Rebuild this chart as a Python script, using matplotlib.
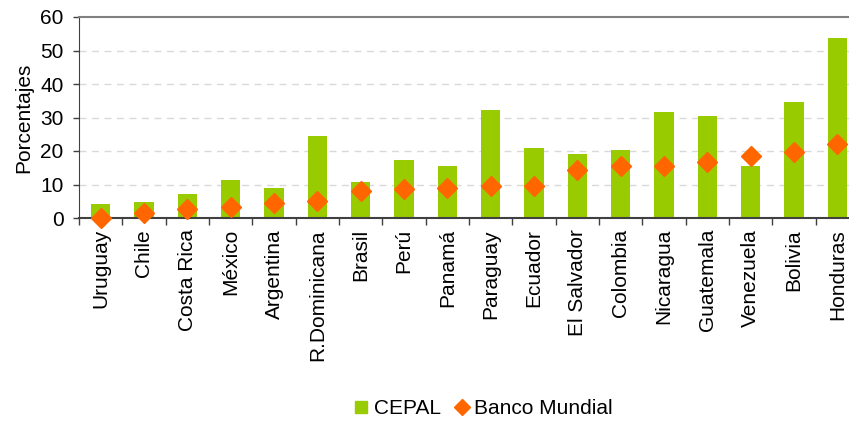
import matplotlib

matplotlib.use("Agg")
import matplotlib.pyplot as plt
import numpy as np
from matplotlib.lines import Line2D

plt.rcParams["font.family"] = ["Liberation Sans", "DejaVu Sans"]

countries = [
    "Uruguay", "Chile", "Costa Rica", "México", "Argentina", "R.Dominicana",
    "Brasil", "Perú", "Panamá", "Paraguay", "Ecuador", "El Salvador",
    "Colombia", "Nicaragua", "Guatemala", "Venezuela", "Bolivia", "Honduras",
]
cepal = [4.2, 4.8, 7.2, 11.4, 9.0, 24.5, 10.8, 17.3, 15.6, 32.3, 20.9, 19.1,
         20.3, 31.7, 30.5, 15.6, 34.7, 53.8]
banco_mundial = [0.0, 1.4, 2.6, 3.2, 4.4, 5.0, 8.0, 8.6, 9.0, 9.6, 9.6, 14.4,
                 15.6, 15.6, 16.8, 18.5, 19.7, 22.1]

green = "#99CC00"
orange = "#FF6600"

fig = plt.figure(figsize=(8.49, 4.21), dpi=100)
ax = fig.add_axes([79 / 849, 203 / 421, 780 / 849, 201 / 421])

x = np.arange(len(countries))
ax.bar(x, cepal, width=0.44, color=green, zorder=2)
ax.plot(x, banco_mundial, "D", color=orange, markersize=10, zorder=3,
        clip_on=False)

ax.set_xlim(-0.5, len(countries) - 0.5)
ax.set_ylim(0, 60)
ax.set_yticks(range(0, 61, 10))
ax.set_xticks(x)
ax.set_xticklabels(countries, rotation=90, fontsize=15)
ax.set_xticks(np.arange(-0.5, len(countries), 1), minor=True)
ax.tick_params(axis="x", which="major", length=0, pad=8)
ax.tick_params(axis="x", which="minor", length=5, width=1, color="#404040")
ax.tick_params(axis="y", length=4, width=1, color="#404040", labelsize=15,
               pad=7)
ax.set_ylabel("Porcentajes", fontsize=15, labelpad=5)

for y in range(10, 60, 10):
    ax.axhline(y, color="#d9d9d9", linewidth=1, dashes=(5, 4), zorder=1)

ax.spines["right"].set_visible(False)
ax.spines["top"].set_color("#808080")
ax.spines["top"].set_linewidth(1.5)
ax.spines["left"].set_color("#404040")
ax.spines["bottom"].set_color("#404040")
ax.spines["bottom"].set_linewidth(1.5)

handles = [
    Line2D([], [], marker="s", linestyle="", color=green, markersize=9),
    Line2D([], [], marker="D", linestyle="", color=orange, markersize=8),
]
fig.legend(handles, ["CEPAL", "Banco Mundial"], loc="center",
           bbox_to_anchor=(482 / 849, 1 - 409 / 421), ncol=2, frameon=False,
           fontsize=15, handletextpad=0.1, columnspacing=0.5, handlelength=1.0,
           borderpad=0)

fig.savefig("out.png", dpi=100)
